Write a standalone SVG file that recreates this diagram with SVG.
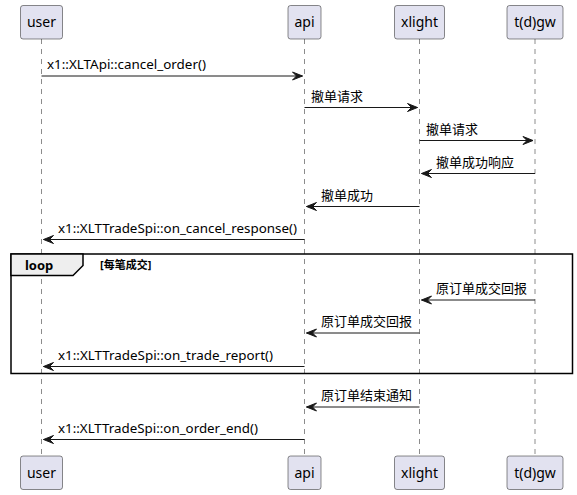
<svg xmlns="http://www.w3.org/2000/svg" width="577" height="495" viewBox="0 0 577 495">
<defs>
<style>
.box{fill:#E2E2F0;stroke:#181818;stroke-width:0.5}
.pt{font-family:"Noto Sans","Noto Sans CJK SC",sans-serif;font-size:14px;fill:#000;text-anchor:middle}
.life{stroke:#181818;stroke-width:0.5;stroke-dasharray:5,5}
.msg{stroke:#181818;stroke-width:1;fill:none}
.ah{fill:#181818;stroke:#181818;stroke-width:1}
.mt{font-family:"Noto Sans","Noto Sans CJK SC",sans-serif;font-size:13px;fill:#000}
.frame{fill:none;stroke:#000;stroke-width:1.5}
.tab{fill:#EEEEEE;stroke:#000;stroke-width:1.5}
</style>
</defs>
<rect width="577" height="495" fill="#FFFFFF"/>
<g id="lifelines">
<line class="life" x1="41.5" y1="39" x2="41.5" y2="456"/>
<line class="life" x1="304.5" y1="39" x2="304.5" y2="456"/>
<line class="life" x1="419.5" y1="39" x2="419.5" y2="456"/>
<line class="life" x1="535" y1="39" x2="535" y2="456"/>
</g>
<g id="user">
<rect class="box" x="20.5" y="5.5" width="42" height="33.5" rx="2.5"/>
<text class="pt" x="41.5" y="27">user</text>
<rect class="box" x="20.5" y="456" width="42" height="33.5" rx="2.5"/>
<text class="pt" x="41.5" y="477.5">user</text>
</g>
<g id="api">
<rect class="box" x="288" y="5.5" width="33" height="33.5" rx="2.5"/>
<text class="pt" x="304.5" y="27">api</text>
<rect class="box" x="288" y="456" width="33" height="33.5" rx="2.5"/>
<text class="pt" x="304.5" y="477.5">api</text>
</g>
<g id="xlight">
<rect class="box" x="394.5" y="5.5" width="50" height="33.5" rx="2.5"/>
<text class="pt" x="419.5" y="27">xlight</text>
<rect class="box" x="394.5" y="456" width="50" height="33.5" rx="2.5"/>
<text class="pt" x="419.5" y="477.5">xlight</text>
</g>
<g id="tdgw">
<rect class="box" x="507" y="5.5" width="56" height="33.5" rx="2.5"/>
<text class="pt" x="535" y="27">t(d)gw</text>
<rect class="box" x="507" y="456" width="56" height="33.5" rx="2.5"/>
<text class="pt" x="535" y="477.5">t(d)gw</text>
</g>
<g id="loop">
<rect class="frame" x="11" y="254" width="561.5" height="119.5"/>
<polygon class="tab" points="11,254 83,254 83,265.5 73,275.5 11,275.5"/>
<text x="25" y="270" style="font-family:'Noto Sans',sans-serif;font-size:13px;font-weight:bold">loop</text>
<text x="100" y="269" style="font-family:'Noto Sans','Noto Sans CJK SC',sans-serif;font-size:11px;font-weight:bold">[每笔成交]</text>
</g>
<g id="connectors">
<line class="msg" x1="41.5" y1="76" x2="302.5" y2="76"/>
<polygon class="ah" points="292.5,72 302.5,76 292.5,80 296.5,76"/>
<text class="mt" x="47" y="69" textLength="159" lengthAdjust="spacingAndGlyphs">x1::XLTApi::cancel_order()</text>

<line class="msg" x1="304.5" y1="107.5" x2="417.5" y2="107.5"/>
<polygon class="ah" points="407.5,103.5 417.5,107.5 407.5,111.5 411.5,107.5"/>
<text class="mt" x="311" y="100.5">撤单请求</text>

<line class="msg" x1="419.5" y1="140.5" x2="533" y2="140.5"/>
<polygon class="ah" points="523,136.5 533,140.5 523,144.5 527,140.5"/>
<text class="mt" x="426" y="133.5">撤单请求</text>

<line class="msg" x1="421.5" y1="173.5" x2="535" y2="173.5"/>
<polygon class="ah" points="431.5,169.5 421.5,173.5 431.5,177.5 427.5,173.5"/>
<text class="mt" x="436" y="166.5">撤单成功响应</text>

<line class="msg" x1="306.5" y1="206.5" x2="419.5" y2="206.5"/>
<polygon class="ah" points="316.5,202.5 306.5,206.5 316.5,210.5 312.5,206.5"/>
<text class="mt" x="321" y="199.5">撤单成功</text>

<line class="msg" x1="43.5" y1="239.5" x2="304.5" y2="239.5"/>
<polygon class="ah" points="53.5,235.5 43.5,239.5 53.5,243.5 49.5,239.5"/>
<text class="mt" x="58" y="232.5" textLength="239" lengthAdjust="spacingAndGlyphs">x1::XLTTradeSpi::on_cancel_response()</text>

<line class="msg" x1="421.5" y1="300" x2="535" y2="300"/>
<polygon class="ah" points="431.5,296 421.5,300 431.5,304 427.5,300"/>
<text class="mt" x="436" y="293">原订单成交回报</text>

<line class="msg" x1="306.5" y1="333" x2="419.5" y2="333"/>
<polygon class="ah" points="316.5,329 306.5,333 316.5,337 312.5,333"/>
<text class="mt" x="321" y="326">原订单成交回报</text>

<line class="msg" x1="43.5" y1="366.5" x2="304.5" y2="366.5"/>
<polygon class="ah" points="53.5,362.5 43.5,366.5 53.5,370.5 49.5,366.5"/>
<text class="mt" x="58" y="359.5" textLength="215" lengthAdjust="spacingAndGlyphs">x1::XLTTradeSpi::on_trade_report()</text>

<line class="msg" x1="306.5" y1="407" x2="419.5" y2="407"/>
<polygon class="ah" points="316.5,403 306.5,407 316.5,411 312.5,407"/>
<text class="mt" x="321" y="400">原订单结束通知</text>

<line class="msg" x1="43.5" y1="439.5" x2="304.5" y2="439.5"/>
<polygon class="ah" points="53.5,435.5 43.5,439.5 53.5,443.5 49.5,439.5"/>
<text class="mt" x="58" y="432.5" textLength="200" lengthAdjust="spacingAndGlyphs">x1::XLTTradeSpi::on_order_end()</text>
</g>
</svg>
